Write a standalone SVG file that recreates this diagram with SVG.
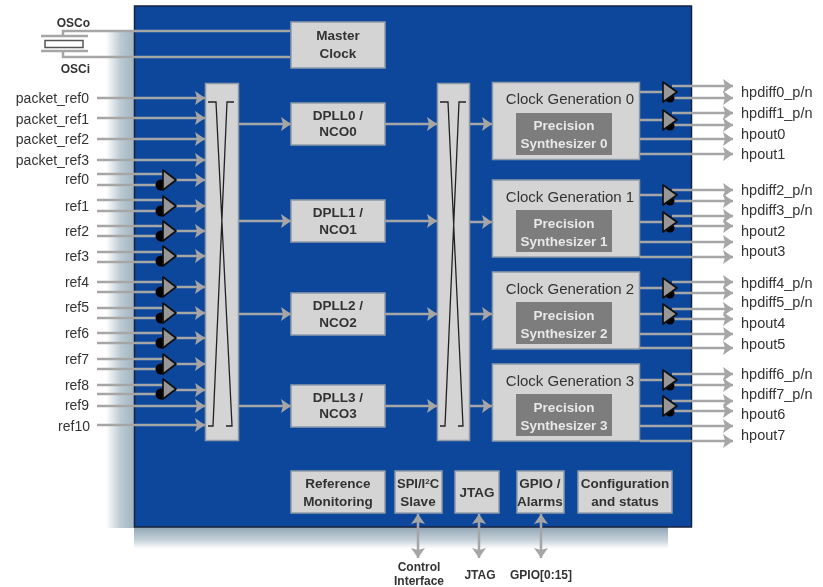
<svg xmlns="http://www.w3.org/2000/svg" width="823" height="587" viewBox="0 0 823 587">
<style>
text{font-family:"Liberation Sans",Arial,sans-serif;font-size:13.5px;fill:#333}
.l{text-anchor:end}.m{text-anchor:middle}.b{font-weight:bold}
.r{font-size:14.5px}.s{font-size:12px;font-weight:bold}.p{font-size:14px}
.g{font-size:15px;text-anchor:middle}
.box{fill:#d4d4d4;stroke:#8e9aa8;stroke-width:1.5}
.in{fill:#7d7d7d}
.wt{fill:#e8e8e8;font-weight:bold;text-anchor:middle}
.w{fill:none;stroke:#a6a6a6;stroke-width:2.500}
.a{fill:none;stroke:#a6a6a6;stroke-width:2.500;marker-end:url(#ah)}
.x{fill:none;stroke:#222;stroke-width:1.300}
.tri{fill:#979797;stroke:#111;stroke-width:1.700;stroke-linejoin:round}
</style>
<defs>
<marker id="ah" markerUnits="userSpaceOnUse" markerWidth="11" markerHeight="14" refX="10" refY="7" orient="auto-start-reverse"><path d="M0 0L10 7L0 14L2 7Z" fill="#a6a6a6"/></marker>
<linearGradient id="sl" x1="0" x2="1" y1="0" y2="0"><stop offset="0" stop-color="#9fb3c0" stop-opacity="0"/><stop offset="0.5" stop-color="#9fb3c0" stop-opacity="0.7"/><stop offset="1" stop-color="#9fb3c0"/></linearGradient>
<linearGradient id="sb" x1="0" x2="0" y1="0" y2="1"><stop offset="0" stop-color="#8fa4b2"/><stop offset="0.6" stop-color="#9fb3c0" stop-opacity="0.6"/><stop offset="1" stop-color="#a9bcc8" stop-opacity="0"/></linearGradient>
<g id="ti"><circle cx="-2" cy="5" r="5.500" fill="#000"/><path class="tri" d="M0-10L13 0L0 10Z"/></g>
<g id="to"><circle cx="7" cy="6" r="4.500" fill="#000"/><path class="tri" d="M0-10L14 0L0 10Z"/></g>
<filter id="soft" x="0" y="0" width="1" height="1"><feGaussianBlur stdDeviation="0.6"/></filter>
</defs>
<g filter="url(#soft)">
<rect width="823" height="587" fill="#fff"/>
<g id="shadow">
<rect x="106" y="30" width="29" height="498" fill="url(#sl)"/>
<rect x="134" y="527" width="534" height="22" fill="url(#sb)"/>
</g>
<rect id="chip" x="134.500" y="6" width="557" height="521" fill="#0d469c" stroke="#18233c" stroke-width="1.500"/>

<g id="connectors">
<path class="w" d="M63 36V31H290M63 51V57H290"/>
<path class="w" d="M41 36H88M41 51H88"/>
<rect x="45" y="40.500" width="38" height="7" fill="#fff" stroke="#555" stroke-width="1.500"/>
<path class="a" d="M97 98H205"/><path class="a" d="M97 118H205"/><path class="a" d="M97 139H205"/><path class="a" d="M97 160H205"/>
<path class="w" d="M97 174H163M97 185H157M97 200H163M97 211H157M97 226H163M97 236H157M97 252H163M97 262H157M97 282H163M97 292H157M97 308H163M97 318H157M97 333H163M97 343H157M97 359H163M97 369H157M97 385H163M97 394H157"/>
<path class="a" d="M176 180H205"/><path class="a" d="M176 206H205"/><path class="a" d="M176 231H205"/><path class="a" d="M176 256H205"/><path class="a" d="M176 287H205"/><path class="a" d="M176 313H205"/><path class="a" d="M176 338H205"/><path class="a" d="M176 364H205"/><path class="a" d="M176 390H205"/>
<path class="a" d="M97 406H205"/><path class="a" d="M97 425H205"/>
<path class="a" d="M239 124H291"/><path class="a" d="M239 221H291"/><path class="a" d="M239 314H291"/><path class="a" d="M239 406H291"/>
<path class="a" d="M385 124H437"/><path class="a" d="M385 221H437"/><path class="a" d="M385 314H437"/><path class="a" d="M385 406H437"/>
<path class="a" d="M470 124H492"/><path class="a" d="M470 222H492"/><path class="a" d="M470 314H492"/><path class="a" d="M470 406H492"/>
<path class="w" d="M640 92H663M640 120H663M640 195H663M640 222H663M640 288H663M640 314H663M640 380H663M640 406H663"/>
<path class="a" d="M672 86H733"/><path class="a" d="M672 98H733"/><path class="a" d="M672 113H733"/><path class="a" d="M672 125H733"/><path class="a" d="M640 139H733"/><path class="a" d="M640 154H733"/>
<path class="a" d="M672 190H733"/><path class="a" d="M672 201H733"/><path class="a" d="M672 216H733"/><path class="a" d="M672 226H733"/><path class="a" d="M640 242H733"/><path class="a" d="M640 257H733"/>
<path class="a" d="M672 282H733"/><path class="a" d="M672 293H733"/><path class="a" d="M672 309H733"/><path class="a" d="M672 319H733"/><path class="a" d="M640 334H733"/><path class="a" d="M640 348H733"/>
<path class="a" d="M672 374H733"/><path class="a" d="M672 385H733"/><path class="a" d="M672 401H733"/><path class="a" d="M672 411H733"/><path class="a" d="M640 426H733"/><path class="a" d="M640 441H733"/>
<path class="a" style="marker-start:url(#ah)" d="M418 514V558"/>
<path class="a" style="marker-start:url(#ah)" d="M479 514V558"/>
<path class="a" style="marker-start:url(#ah)" d="M541 514V558"/>
</g>

<g id="input-buffers">
<use href="#ti" x="163" y="180"/><use href="#ti" x="163" y="206"/><use href="#ti" x="163" y="231"/><use href="#ti" x="163" y="256"/><use href="#ti" x="163" y="287"/><use href="#ti" x="163" y="313"/><use href="#ti" x="163" y="338"/><use href="#ti" x="163" y="364"/><use href="#ti" x="163" y="389"/>
</g>
<g id="output-buffers">
<use href="#to" x="663" y="92"/><use href="#to" x="663" y="120"/><use href="#to" x="663" y="195"/><use href="#to" x="663" y="222"/><use href="#to" x="663" y="288"/><use href="#to" x="663" y="314"/><use href="#to" x="663" y="380"/><use href="#to" x="663" y="406"/>
</g>

<g id="mux-left"><rect class="box" x="205.500" y="83.500" width="33" height="357"/><path class="x" d="M208 102H216L232 426H226M234 102H227L213 426H208"/></g>
<g id="mux-right"><rect class="box" x="437.500" y="83.500" width="32" height="357"/><path class="x" d="M440 102H448L463 426H458M466 102H459L445 426H440"/></g>

<g id="master-clock"><rect class="box" x="291" y="22" width="94" height="46"/><text class="m b" x="338" y="40">Master</text><text class="m b" x="338" y="58">Clock</text></g>
<g id="dpll0"><rect class="box" x="291" y="103" width="94" height="42"/><text class="m b" x="338" y="120">DPLL0 /</text><text class="m b" x="338" y="136">NCO0</text></g>
<g id="dpll1"><rect class="box" x="291" y="200" width="94" height="42"/><text class="m b" x="338" y="217">DPLL1 /</text><text class="m b" x="338" y="234">NCO1</text></g>
<g id="dpll2"><rect class="box" x="291" y="293" width="94" height="42"/><text class="m b" x="338" y="310">DPLL2 /</text><text class="m b" x="338" y="327">NCO2</text></g>
<g id="dpll3"><rect class="box" x="291" y="385" width="94" height="42"/><text class="m b" x="338" y="402">DPLL3 /</text><text class="m b" x="338" y="418">NCO3</text></g>

<g id="clockgen0"><rect class="box" x="492.500" y="82.500" width="147" height="77"/><text class="g" x="570" y="104">Clock Generation 0</text><rect class="in" x="516" y="113" width="96" height="42"/><text class="wt" x="564" y="130">Precision</text><text class="wt" x="564" y="148">Synthesizer 0</text></g>
<g id="clockgen1"><rect class="box" x="492.500" y="180" width="147" height="77"/><text class="g" x="570" y="202">Clock Generation 1</text><rect class="in" x="516" y="210" width="96" height="42"/><text class="wt" x="564" y="228">Precision</text><text class="wt" x="564" y="246">Synthesizer 1</text></g>
<g id="clockgen2"><rect class="box" x="492.500" y="272" width="147" height="77"/><text class="g" x="570" y="294">Clock Generation 2</text><rect class="in" x="516" y="302" width="96" height="42"/><text class="wt" x="564" y="320">Precision</text><text class="wt" x="564" y="338">Synthesizer 2</text></g>
<g id="clockgen3"><rect class="box" x="492.500" y="364" width="147" height="77"/><text class="g" x="570" y="386">Clock Generation 3</text><rect class="in" x="516" y="394" width="96" height="42"/><text class="wt" x="564" y="412">Precision</text><text class="wt" x="564" y="430">Synthesizer 3</text></g>

<g id="ref-monitoring"><rect class="box" x="291" y="471" width="94" height="42"/><text class="m b" x="338" y="488">Reference</text><text class="m b" x="338" y="506">Monitoring</text></g>
<g id="spi"><rect class="box" x="395" y="471" width="47" height="42"/><text class="m b" x="418" y="488" style="font-size:13px">SPI/I<tspan font-size="8" dy="-4">2</tspan><tspan dy="4">C</tspan></text><text class="m b" x="418" y="506">Slave</text></g>
<g id="jtag"><rect class="box" x="455" y="471" width="44" height="42"/><text class="m b" x="477" y="497">JTAG</text></g>
<g id="gpio"><rect class="box" x="517" y="471" width="47" height="42"/><text class="m b" x="540" y="488">GPIO /</text><text class="m b" x="540" y="506">Alarms</text></g>
<g id="config"><rect class="box" x="578" y="471" width="94" height="42"/><text class="m b" x="625" y="488">Configuration</text><text class="m b" x="625" y="506">and status</text></g>

<g id="labels-left">
<text class="s l" x="90" y="27">OSCo</text><text class="s l" x="90" y="73">OSCi</text>
<text class="l p" x="89" y="103">packet_ref0</text><text class="l p" x="89" y="124">packet_ref1</text><text class="l p" x="89" y="144">packet_ref2</text><text class="l p" x="89" y="165">packet_ref3</text>
<text class="l p" x="89" y="184">ref0</text><text class="l p" x="89" y="211">ref1</text><text class="l p" x="89" y="236">ref2</text><text class="l p" x="89" y="261">ref3</text><text class="l p" x="89" y="287">ref4</text><text class="l p" x="89" y="312">ref5</text><text class="l p" x="89" y="338">ref6</text><text class="l p" x="89" y="364">ref7</text><text class="l p" x="89" y="390">ref8</text><text class="l p" x="89" y="410">ref9</text><text class="l p" x="90" y="431">ref10</text>
</g>
<g id="labels-right">
<text class="r" x="741" y="97">hpdiff0_p/n</text><text class="r" x="741" y="118">hpdiff1_p/n</text><text class="r" x="741" y="139">hpout0</text><text class="r" x="741" y="159">hpout1</text>
<text class="r" x="741" y="195">hpdiff2_p/n</text><text class="r" x="741" y="215">hpdiff3_p/n</text><text class="r" x="741" y="236">hpout2</text><text class="r" x="741" y="256">hpout3</text>
<text class="r" x="741" y="288">hpdiff4_p/n</text><text class="r" x="741" y="307">hpdiff5_p/n</text><text class="r" x="741" y="328">hpout4</text><text class="r" x="741" y="349">hpout5</text>
<text class="r" x="741" y="379">hpdiff6_p/n</text><text class="r" x="741" y="399">hpdiff7_p/n</text><text class="r" x="741" y="419">hpout6</text><text class="r" x="741" y="440">hpout7</text>
</g>
<g id="labels-bottom">
<text class="s m" x="419" y="571">Control</text><text class="s m" x="419" y="585">Interface</text>
<text class="s m" x="480" y="579">JTAG</text><text class="s m" x="541" y="579">GPIO[0:15]</text>
</g>
</g>
</svg>
